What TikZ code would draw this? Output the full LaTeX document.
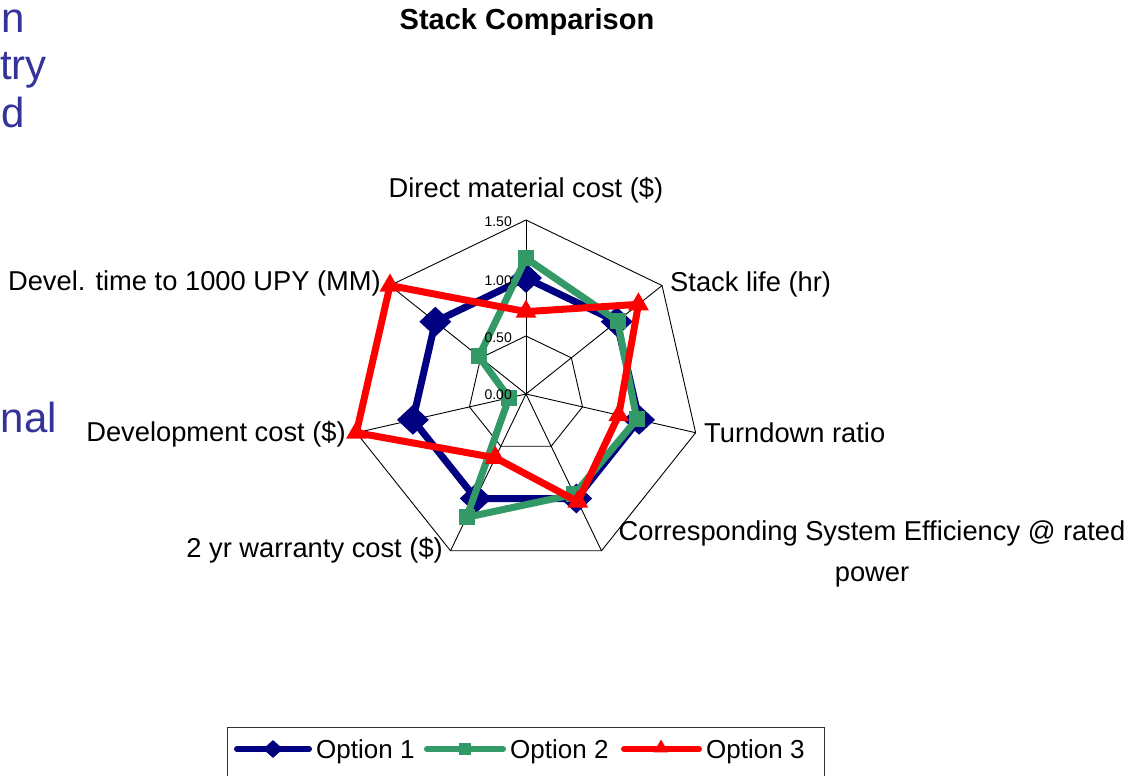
\documentclass[tikz,border=0pt]{standalone}
\usepackage{fontspec}
\setmainfont{Liberation Sans}
\usetikzlibrary{shapes.geometric,positioning}
\definecolor{optone}{HTML}{000080}
\definecolor{opttwo}{HTML}{339966}
\definecolor{optthree}{HTML}{FF0000}
\definecolor{slideblue}{HTML}{333399}

\begin{document}
\begin{tikzpicture}[x=1pt,y=-1pt,
  lbl/.style={font=\fontsize{27.3}{33}\selectfont,inner sep=0pt},
  legtxt/.style={font=\fontsize{26}{31}\selectfont,inner sep=0pt,anchor=base west},
  tick/.style={font=\fontsize{14}{16}\selectfont,inner sep=0pt,anchor=base east},
  frag/.style={font=\fontsize{42}{50}\selectfont,text=slideblue,inner sep=0pt,anchor=base east},
  grid/.style={black,line width=0.9pt},
  serone/.style={optone,line width=7pt,line join=round},
  sertwo/.style={opttwo,line width=7pt,line join=round},
  serthree/.style={optthree,line width=7pt,line join=round},
  mkone/.style={diamond,fill=optone,inner sep=0pt,minimum width=32pt,minimum height=30pt},
  mktwo/.style={rectangle,fill=opttwo,inner sep=0pt,minimum size=16pt},
  mkthree/.style={regular polygon,regular polygon sides=3,fill=optthree,inner sep=0pt,minimum size=24pt}]
\path[use as bounding box,fill=white] (0,0) rectangle (1140,776);

% slide text cut off at the left edge
\node[frag] (f1) at (25,33) {n};
\node[frag] (f2) at (47,80) {try};
\node[frag] (f3) at (25,127) {d};
\node[frag] (f4) at (57,432) {nal};

\node[font=\fontsize{29}{34}\selectfont\bfseries,anchor=base] (title) at (527,30) {Stack Comparison};

\begin{scope}[shift={(526,394)}]
% web
\foreach \r in {58,116,174}
  \draw[grid] (-90:\r) \foreach \k in {1,...,6} { -- ({-90+\k*360/7}:\r) } -- cycle;
\foreach \k in {0,...,6}
  \draw[grid] (0,0) -- ({-90+\k*360/7}:174);

% data, clockwise from the top
\foreach \v [count=\k from 0] in {1,1,1,1,1,1,1}
  \coordinate (a\k) at ({-90+\k*360/7}:{116*\v});
\foreach \v [count=\k from 0] in {1.17,1.01,0.98,0.96,1.18,0.15,0.52}
  \coordinate (b\k) at ({-90+\k*360/7}:{116*\v});
\foreach \v [count=\k from 0] in {0.71,1.24,0.82,1.03,0.61,1.5,1.5}
  \coordinate (c\k) at ({-90+\k*360/7}:{116*\v});

\draw[serone] (a0) -- (a1) -- (a2) -- (a3) -- (a4) -- (a5) -- (a6) -- cycle;
\foreach \k in {0,...,6} \node[mkone] (ma\k) at (a\k) {};
\draw[sertwo] (b0) -- (b1) -- (b2) -- (b3) -- (b4) -- (b5) -- (b6) -- cycle;
\foreach \k in {0,...,6} \node[mktwo] (mb\k) at (b\k) {};
\draw[serthree] (c0) -- (c1) -- (c2) -- (c3) -- (c4) -- (c5) -- (c6) -- cycle;
\foreach \k in {0,...,6} \node[mkthree] (mc\k) at (c\k) {};
\end{scope}

\node[tick] (t0) at (512,399) {0.00};
\node[tick] (t1) at (512,342) {0.50};
\node[tick] (t2) at (512,285) {1.00};
\node[tick] (t3) at (512,226) {1.50};

\node[lbl,anchor=base] (ax0) at (526,197) {Direct material cost (\$)};
\node[lbl,anchor=base west] (ax1) at (670,291) {Stack life (hr)};
\node[lbl,anchor=base west] (ax2) at (704,442) {Turndown ratio};
\node[lbl,anchor=base] (ax3) at (872,540) {Corresponding System Efficiency @ rated};
\node[lbl,anchor=base] (ax3b) at (872,581) {power};
\node[lbl,anchor=base east] (ax4) at (443,557) {2 yr warranty cost (\$)};
\node[lbl,anchor=base east] (ax5) at (346,441) {Development cost (\$)};
\node[lbl,anchor=base east] (ax6) at (381,290) {Devel. time to 1000 UPY (MM)};

% legend
\draw[black!80,line width=0.9pt] (227,727) rectangle (824,800);
\draw[serone,line width=6pt,line cap=round] (237,749) -- (309,749);
\node[mkone,minimum width=20pt,minimum height=18pt] (l1) at (273,749) {};
\node[legtxt] (lt1) at (316,758) {Option 1};
\draw[sertwo,line width=6pt,line cap=round] (427,749) -- (503,749);
\node[mktwo,minimum size=12pt] (l2) at (465,749) {};
\node[legtxt] (lt2) at (510,758) {Option 2};
\draw[serthree,line width=6pt,line cap=round] (624,749) -- (699,749);
\node[mkthree,minimum size=17pt] (l3) at (661,748) {};
\node[legtxt] (lt3) at (706,758) {Option 3};
\end{tikzpicture}
\end{document}
